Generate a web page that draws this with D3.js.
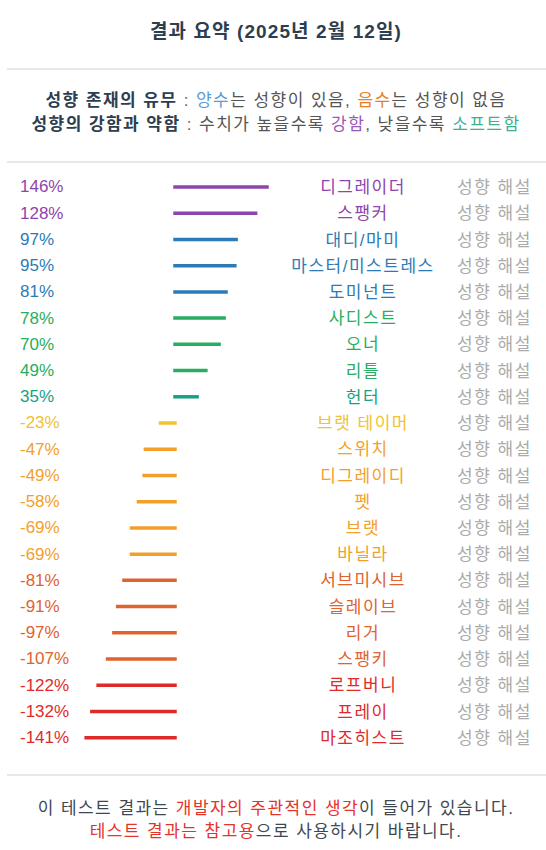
<!DOCTYPE html>
<html>
<head>
<meta charset="utf-8">
<script src="https://cdn.jsdelivr.net/npm/d3@7"></script>
<style>
  body { margin: 0; background: #fff; }
  svg { display: block; font-family: "Liberation Sans", "Noto Sans CJK KR", sans-serif; }
</style>
</head>
<body>
<div id="container"></div>
<script>
const names = ["디그레이더", "스팽커", "대디/마미", "마스터/미스트레스", "도미넌트", "사디스트", "오너", "리틀", "헌터",
  "브랫 테이머", "스위치", "디그레이디", "펫", "브랫", "바닐라", "서브미시브", "슬레이브", "리거", "스팽키", "로프버니", "프레이", "마조히스트"];
const values = [146, 128, 97, 95, 81, 78, 70, 49, 35, -23, -47, -49, -58, -69, -69, -81, -91, -97, -107, -122, -132, -141];
const groups = ["purple", "purple", "blue", "blue", "blue", "green", "green", "green", "teal",
  "yellow", "orange", "orange", "orange", "orange", "orange", "redorange", "redorange", "redorange", "redorange", "red", "red", "red"];
const groupKeys = ["purple", "blue", "green", "teal", "yellow", "orange", "redorange", "red"];
const groupColors = ["#8e44ad", "#2c7bb6", "#27ae60", "#16a085", "#f1c232", "#f2a02a", "#e0622f", "#e02a2a"];

const W = 546, H = 850;
const cx = 276;

const svg = d3.select("#container")
  .append("svg")
  .attr("width", W)
  .attr("height", H);

svg.append("rect").attr("width", W).attr("height", H).attr("fill", "#fff");

const color = d3.scaleOrdinal().domain(groupKeys).range(groupColors);

// Title
svg.append("text")
  .attr("x", cx)
  .attr("y", 38)
  .attr("text-anchor", "middle")
  .style("font-size", "19px")
  .style("font-weight", "bold")
  .style("letter-spacing", "1.1px")
  .style("fill", "#2c3e50")
  .text("결과 요약 (2025년 2월 12일)");

// separators
[69, 162, 775].forEach(y => {
  svg.append("line")
    .attr("x1", 7).attr("x2", W)
    .attr("y1", y).attr("y2", y)
    .attr("stroke", "#e8e8e8")
    .attr("stroke-width", 2);
});

// legend text, built from pieces
const legendLines = [
  [["성향 존재의 유무", "#2c3e50", true], [" : ", "#666"], ["양수", "#5b9bd5"], ["는 성향이 있음, ", "#555"], ["음수", "#e67e22"], ["는 성향이 없음", "#555"]],
  [["성향의 강함과 약함", "#2c3e50", true], [" : ", "#666"], ["수치가 높을수록 ", "#555"], ["강함", "#9b59b6"], [", 낮을수록 ", "#555"], ["소프트함", "#3cb08f"]]
];
const footerLines = [
  [["이 테스트 결과는 ", "#3d4852"], ["개발자의 주관적인 생각", "#e6332a"], ["이 들어가 있습니다.", "#3d4852"]],
  [["테스트 결과는 참고용", "#e6332a"], ["으로 사용하시기 바랍니다.", "#3d4852"]]
];

function richLine(parts, y) {
  const t = svg.append("text")
    .attr("x", cx)
    .attr("y", y)
    .attr("text-anchor", "middle")
    .style("font-size", "17px")
    .style("letter-spacing", "1.45px");
  parts.forEach(p => {
    t.append("tspan")
      .style("fill", p[1])
      .style("font-weight", p[2] ? "bold" : "normal")
      .text(p[0]);
  });
}
richLine(legendLines[0], 106);
richLine(legendLines[1], 130);
richLine(footerLines[0], 814);
richLine(footerLines[1], 837);

// rows
const x = d3.scaleLinear().domain([-150, 150]).range([80.5, 269.5]);
const y = d3.scalePoint().domain(d3.range(names.length)).range([187, 737.7]);

const rows = svg.append("g")
  .selectAll("g")
  .data(names.map((n, i) => ({ name: n, value: values[i], group: groups[i], i })))
  .join("g")
  .attr("transform", d => `translate(0,${y(d.i)})`);

rows.append("text")
  .attr("x", 20)
  .attr("dy", "0.32em")
  .style("font-size", "17px")
  .style("fill", d => color(d.group))
  .text(d => `${d.value}%`);

rows.append("line")
  .attr("x1", x(0))
  .attr("x2", d => x(d.value))
  .attr("stroke", d => color(d.group))
  .attr("stroke-width", 3.5)
  .attr("stroke-linecap", "square");

rows.append("text")
  .attr("x", 363)
  .attr("dy", "0.36em")
  .attr("text-anchor", "middle")
  .style("font-size", "17px")
  .style("letter-spacing", "1.5px")
  .style("fill", d => color(d.group))
  .text(d => d.name);

rows.append("text")
  .attr("x", 457)
  .attr("dy", "0.36em")
  .style("font-size", "17px")
  .style("letter-spacing", "1.5px")
  .style("fill", "#aaa")
  .text("성향 해설");
</script>
</body>
</html>
